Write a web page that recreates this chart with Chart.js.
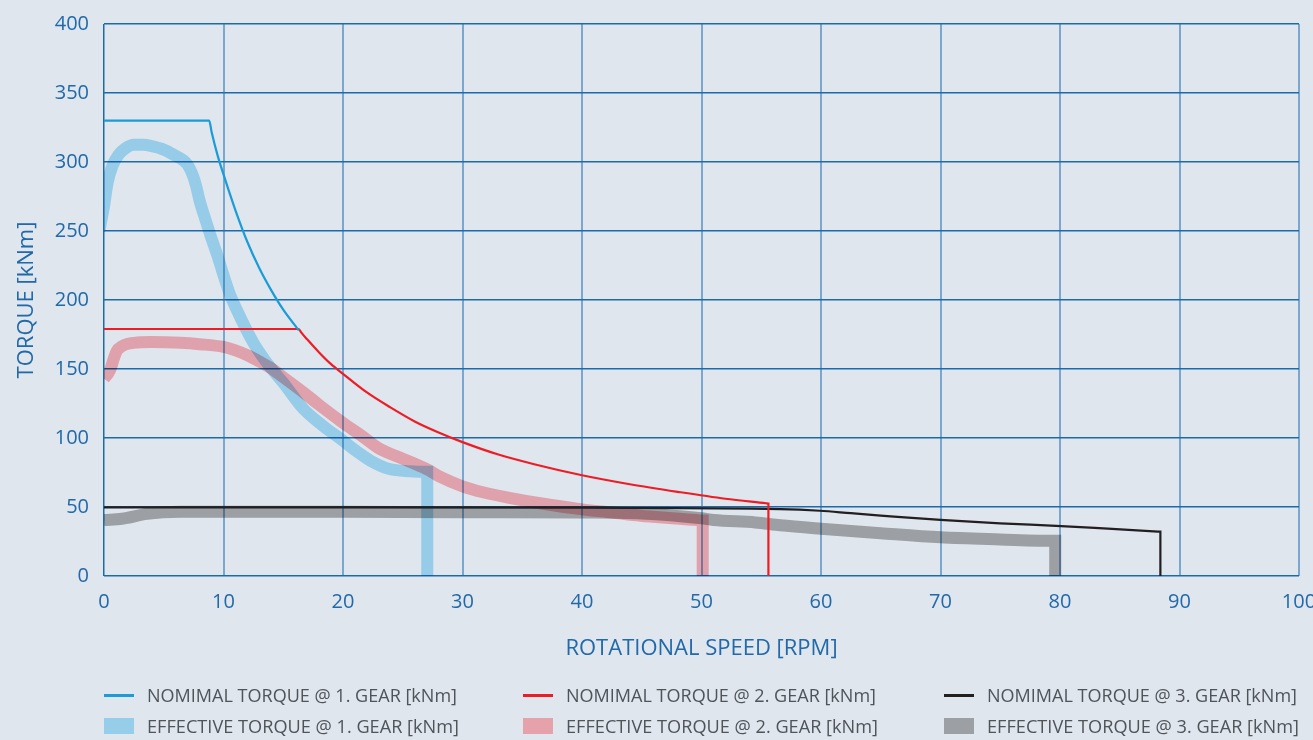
<!DOCTYPE html>
<html>
<head>
<meta charset="utf-8">
<script src="https://cdn.jsdelivr.net/npm/chart.js@4.4.1/dist/chart.umd.min.js"></script>
<style>
  html, body { margin:0; padding:0; background:#dfe6ee; width:1313px; height:740px; overflow:hidden; }
  #wrap { position:absolute; left:0; top:0; width:1313px; height:680px; }
  #legend { position:absolute; left:0; top:0; width:1313px; height:740px; pointer-events:none; }
  .sw { position:absolute; }
  .lab { position:absolute; white-space:nowrap; font-family:"Open Sans", sans-serif; font-size:18px; color:#4f5459; transform-origin:left center; line-height:20px; }
</style>
</head>
<body>
<div id="wrap"><canvas id="c"></canvas></div>
<div id="legend"></div>
<script>
// ---- data ----
const nom1X = [0, 8.8, 9.0, 9.5, 10, 11, 12, 13, 14, 15, 16.3];
const nom1Y = [330, 330, 322, 305, 291, 265, 242, 223, 207, 193, 178];

const nom2X = [0, 16.3, 16.5, 17, 18, 19, 20, 22, 24, 26, 28, 30, 33, 36, 40, 44, 48, 52, 55.4, 55.6, 55.6];
const nom2Y = [179, 179, 176.5, 171.5, 162, 153.5, 146.5, 133, 122, 112, 104, 97, 88, 81, 73, 66.5, 61, 56, 52.7, 52.5, 0];

const nom3X = [0, 20, 40, 56.6, 59.9, 62.5, 65, 70, 75, 80.1, 84, 88.2, 88.4, 88.4];
const nom3Y = [49.7, 49.8, 49.5, 48.5, 47.3, 45.5, 43.8, 40.6, 38.2, 36.2, 34.3, 32.2, 32.1, 0];

const eff1X = [-0.4, 0, 0.3, 0.7, 1.2, 1.8, 2.5, 3.3, 4, 5, 6.1, 6.6, 7.0, 7.4, 7.7, 8.0, 8.5, 8.9, 9.5, 10, 10.5, 11.1, 12.5, 13.5, 15, 16.7, 18.3, 20, 21.2, 22.3, 23.9, 25.6, 27.05, 27.05];
const eff1Y = [250, 268, 285, 297, 305, 310, 312.5, 312.5, 311.5, 309, 304, 301.5, 298, 291, 283, 272, 258, 247, 232, 218, 205, 193, 169, 156, 140, 121, 109, 98, 90, 83.6, 77.5, 75.9, 75.5, 0];

const eff2X = [0, 0.5, 0.8, 1.06, 1.5, 2.0, 2.8, 4, 6.4, 8, 10, 11, 12, 13, 13.9, 15, 16.7, 18, 20, 21.5, 23.1, 25, 27, 28.1, 30, 31.8, 33.7, 36.5, 40, 42.5, 44.9, 47.3, 49.6, 50.1, 50.1];
const eff2Y = [143, 149, 157, 163, 166.5, 168.3, 169.2, 169.5, 169, 168, 166, 163.5, 160, 155.5, 151, 144, 133, 124, 111, 102, 92, 85, 77.5, 72, 65, 60.5, 57, 52.7, 48.3, 46, 43.7, 42, 40.5, 40.3, 0];

const eff3X = [0, 1.5, 3.6, 6.4, 10, 20, 30, 40, 45, 50, 51, 54.5, 56.6, 60, 65, 70, 75, 79.6, 79.6];
const eff3Y = [40.6, 41.5, 45, 46.5, 46.6, 46.5, 46.2, 46, 45.3, 41.8, 40.6, 38.8, 36.8, 34.3, 31, 28, 26.5, 25.5, 0];

const xTicks = [0, 10, 20, 30, 40, 50, 60, 70, 80, 90, 100];
const yTicks = [0, 50, 100, 150, 200, 250, 300, 350, 400];

const labels = [
  "NOMIMAL TORQUE @ 1. GEAR [kNm]", "NOMIMAL TORQUE @ 2. GEAR [kNm]", "NOMIMAL TORQUE @ 3. GEAR [kNm]",
  "EFFECTIVE TORQUE @ 1. GEAR [kNm]", "EFFECTIVE TORQUE @ 2. GEAR [kNm]", "EFFECTIVE TORQUE @ 3. GEAR [kNm]"
];
const xTitle = "ROTATIONAL SPEED [RPM]";
const yTitle = "TORQUE [kNm]";

// ---- styling ----
const lineColors = ["#1a9cd8", "#ee1c25", "#231f20"];
const bandColors = ["rgb(172,227,249)", "rgb(255,180,184)", "rgb(178,176,175)"];
const bandLegend = ["#96cde8", "#e5a2aa", "#9c9fa3"];
const BG = "#dfe6ee";
const AXIS_BLUE = "#1b6aab";
const GRID_LIGHT = "rgba(40,115,180,0.55)";
const TEXT_BLUE = "#2169a9";

function zip(xs, ys) { return xs.map((x, i) => ({ x: x, y: ys[i] })); }

const nominal = [[nom1X, nom1Y], [nom2X, nom2Y], [nom3X, nom3Y]];
const effective = [[eff1X, eff1Y], [eff2X, eff2Y], [eff3X, eff3Y]];

const datasets = [];
nominal.forEach((d, i) => datasets.push({
  label: labels[i], data: zip(d[0], d[1]), borderColor: lineColors[i], borderWidth: 2.2,
  pointRadius: 0, cubicInterpolationMode: 'monotone', borderJoinStyle: 'miter', fill: false, order: 0, clip: 0
}));
effective.forEach((d, i) => datasets.push({
  label: labels[3 + i], data: zip(d[0], d[1]), borderColor: bandColors[i], borderWidth: 12,
  pointRadius: 0, cubicInterpolationMode: 'monotone', borderJoinStyle: 'miter', borderCapStyle: 'butt', fill: false, order: 1, clip: 0,
  multiply: true
}));

const bgPlugin = {
  id: 'bg',
  beforeDraw(chart) {
    const c = chart.ctx; c.save(); c.fillStyle = BG; c.fillRect(0, 0, chart.width, chart.height); c.restore();
  }
};
const multiplyPlugin = {
  id: 'mult',
  beforeDatasetDraw(chart, args) {
    if (chart.data.datasets[args.index].multiply) { chart.ctx.save(); chart.ctx.globalCompositeOperation = 'multiply'; }
  },
  afterDatasetDraw(chart, args) {
    if (chart.data.datasets[args.index].multiply) { chart.ctx.restore(); }
  }
};

new Chart(document.getElementById('c'), {
  type: 'line',
  data: { datasets: datasets },
  plugins: [bgPlugin, multiplyPlugin],
  options: {
    responsive: true, maintainAspectRatio: false, animation: false,
    layout: { padding: { left: 0, right: 14, top: 24, bottom: 0 } },
    plugins: { legend: { display: false }, tooltip: { enabled: false } },
    scales: {
      x: {
        type: 'linear', min: 0, max: 100,
        afterBuildTicks(s) { s.ticks = xTicks.map(v => ({ value: v })); },
        afterFit(s) { s.height = 104; s.paddingRight = 0; s.paddingLeft = 0; },
        ticks: { color: TEXT_BLUE, font: { family: "'Open Sans', sans-serif", size: 20 }, padding: 14, maxRotation: 0, autoSkip: false },
        grid: {
          drawTicks: false,
          color: (ctx) => ctx.tick && ctx.tick.value === 0 ? AXIS_BLUE : GRID_LIGHT,
          lineWidth: (ctx) => ctx.tick && ctx.tick.value === 0 ? 1.5 : 2
        },
        border: { display: false },
        title: { display: true, text: xTitle, color: TEXT_BLUE, font: { family: "'Open Sans', sans-serif", size: 22 }, padding: { top: 0, bottom: 18 } }
      },
      y: {
        type: 'linear', min: 0, max: 400,
        afterBuildTicks(s) { s.ticks = yTicks.map(v => ({ value: v })); },
        afterFit(s) { s.width = 104; s.paddingTop = 0; s.paddingBottom = 0; },
        ticks: { color: TEXT_BLUE, font: { family: "'Open Sans', sans-serif", size: 20 }, padding: 15, autoSkip: false },
        grid: { drawTicks: false, color: AXIS_BLUE, lineWidth: 1.5 },
        border: { display: false },
        title: { display: true, text: yTitle, color: TEXT_BLUE, font: { family: "'Open Sans', sans-serif", size: 22 }, padding: { top: 14, bottom: 0 } }
      }
    }
  }
});

// ---- HTML legend (3 columns x 2 rows) ----
const legend = document.getElementById('legend');
const colX = [104, 523, 944];
const rowY = [695, 726];
const spans = [];
labels.forEach((t, i) => {
  const col = i % 3, row = Math.floor(i / 3);
  const sw = document.createElement('div');
  sw.className = 'sw';
  if (row === 0) {
    sw.style.left = colX[col] + 'px'; sw.style.top = (rowY[0] - 1.5) + 'px';
    sw.style.width = '30px'; sw.style.height = '3px'; sw.style.background = lineColors[col];
  } else {
    sw.style.left = colX[col] + 'px'; sw.style.top = (rowY[1] - 8) + 'px';
    sw.style.width = '30px'; sw.style.height = '16px'; sw.style.background = bandLegend[col];
  }
  legend.appendChild(sw);
  const s = document.createElement('span');
  s.className = 'lab'; s.textContent = t;
  s.style.left = (colX[col] + 43) + 'px'; s.style.top = (rowY[row] - 10) + 'px';
  legend.appendChild(s);
  spans.push(s);
});
const targetW = [310, 310, 310, 312, 312, 312];
spans.forEach((s, i) => {
  const w = s.getBoundingClientRect().width;
  if (w > 0) s.style.transform = 'scaleX(' + (targetW[i] / w) + ')';
});
</script>
</body>
</html>
